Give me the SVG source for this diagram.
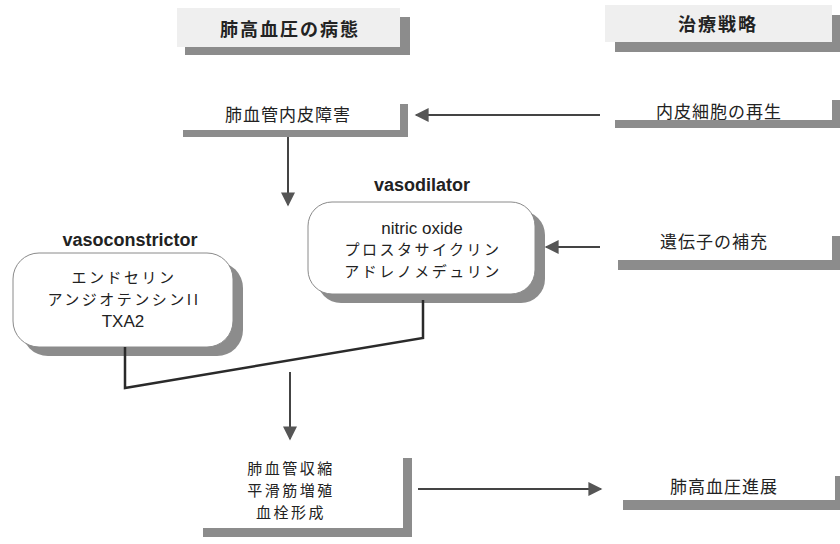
<svg xmlns="http://www.w3.org/2000/svg" width="840" height="544" viewBox="0 0 840 544">
<style>
.sh{fill:#8c8c8c}
.hd{fill:#efefef}
.bx{fill:#ffffff}
.rb{fill:#ffffff;stroke:#8a8a8a;stroke-width:1}
.jp{font-family:"Noto Sans CJK JP","Liberation Sans",sans-serif;font-size:17px;letter-spacing:1px;fill:#222;text-anchor:middle}
.jm{font-family:"Noto Sans CJK JP","Liberation Sans",sans-serif;font-size:15px;letter-spacing:2.5px;fill:#222;text-anchor:middle}
.hb{font-family:"Noto Sans CJK JP","Liberation Sans",sans-serif;font-size:18px;font-weight:bold;letter-spacing:2px;fill:#222;text-anchor:middle}
.en{font-family:"Liberation Sans",Arial,sans-serif;font-size:17px;fill:#222;text-anchor:middle}
.eb{font-family:"Liberation Sans",Arial,sans-serif;font-size:18px;font-weight:bold;fill:#222;text-anchor:middle}
.ln{fill:none;stroke:#444;stroke-width:2}
.cn{fill:none;stroke:#2a2a2a;stroke-width:2.5;stroke-linejoin:miter}
</style>
<defs>
<marker id="ah2" viewBox="0 0 10 10" refX="9" refY="5" markerWidth="16" markerHeight="14" orient="auto" markerUnits="userSpaceOnUse">
<path d="M0,0 L10,5 L0,10 Z" fill="#555"/>
</marker>
</defs>

<g id="header-pathology">
<rect class="sh" x="185" y="17" width="225" height="38"/>
<rect class="hd" x="177" y="8" width="223" height="39"/>
<text class="hb" x="290" y="36">肺高血圧の病態</text>
</g>
<g id="header-strategy">
<rect class="sh" x="615" y="15" width="225" height="37"/>
<rect class="hd" x="605" y="5" width="227" height="37"/>
<text class="hb" x="718" y="31">治療戦略</text>
</g>

<g id="endothelial-damage">
<rect class="sh" x="183" y="104" width="225" height="33"/>
<rect class="bx" x="175" y="95" width="225" height="35"/>
<text class="jp" x="288" y="121">肺血管内皮障害</text>
</g>
<g id="endothelial-regeneration">
<rect class="sh" x="615" y="100" width="225" height="28"/>
<rect class="bx" x="607" y="90" width="225" height="30"/>
<text class="jp" x="719" y="118">内皮細胞の再生</text>
</g>
<g id="gene-supplement">
<rect class="sh" x="618" y="236" width="222" height="34"/>
<rect class="bx" x="610" y="226" width="222" height="34"/>
<text class="jp" x="714" y="248">遺伝子の補充</text>
</g>

<g id="vasoconstrictor">
<text class="eb" x="130" y="246">vasoconstrictor</text>
<rect class="sh" x="22" y="262" width="221" height="94" rx="26"/>
<rect class="rb" x="13" y="253" width="220" height="94" rx="26"/>
<text class="jm" x="124" y="283">エンドセリン</text>
<text class="jm" x="124" y="305">アンジオテンシンII</text>
<text class="en" x="123" y="327">TXA2</text>
</g>

<g id="vasodilator">
<text class="eb" x="422" y="191">vasodilator</text>
<rect class="sh" x="317" y="211" width="228" height="92" rx="24"/>
<rect class="rb" x="308" y="202" width="227" height="92" rx="24"/>
<text class="en" x="422" y="234">nitric oxide</text>
<text class="jm" x="423" y="255">プロスタサイクリン</text>
<text class="jm" x="423" y="277">アドレノメデュリン</text>
</g>

<g id="vascular-changes">
<rect class="sh" x="203" y="458" width="209" height="79"/>
<rect class="bx" x="195" y="450" width="208" height="78"/>
<text class="jm" x="291" y="474">肺血管収縮</text>
<text class="jm" x="291" y="496">平滑筋増殖</text>
<text class="jm" x="291" y="518">血栓形成</text>
</g>

<g id="ph-progression">
<rect class="sh" x="623" y="476" width="220" height="34"/>
<rect class="bx" x="615" y="466" width="220" height="34"/>
<text class="jp" x="724" y="493">肺高血圧進展</text>
</g>

<g id="connectors">
<line class="ln" x1="600" y1="115" x2="416" y2="115" marker-end="url(#ah2)"/>
<line class="ln" x1="288" y1="137" x2="288" y2="205" marker-end="url(#ah2)"/>
<line class="ln" x1="600" y1="247" x2="546" y2="247" marker-end="url(#ah2)"/>
<polyline class="cn" points="125,347 125,388 423,338 423,300"/>
<line class="ln" x1="290" y1="372" x2="290" y2="439" marker-end="url(#ah2)"/>
<line class="ln" x1="418" y1="489" x2="601" y2="489" marker-end="url(#ah2)"/>
</g>
</svg>
